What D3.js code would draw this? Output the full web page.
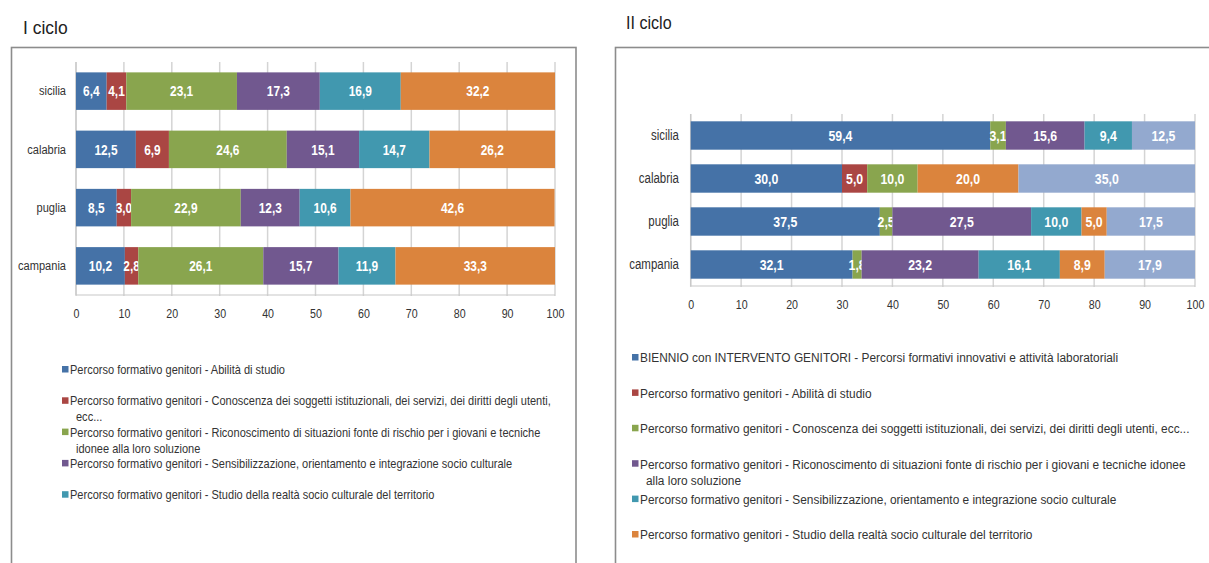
<!DOCTYPE html>
<html>
<head>
<meta charset="utf-8">
<script src="https://cdn.jsdelivr.net/npm/d3@7"></script>
<style>
  html, body { margin: 0; padding: 0; background: #fff; }
  svg { display: block; }
  text { font-family: "Liberation Sans", Arial, sans-serif; }
</style>
</head>
<body>
<svg id="chart" width="1209" height="563"></svg>
<script>
// Regions, top to bottom
const categories = ["sicilia", "calabria", "puglia", "campania"];
const xTicks = [0, 10, 20, 30, 40, 50, 60, 70, 80, 90, 100];

// I ciclo: percentage shares per region
const iAbilita           = [6.4, 12.5, 8.5, 10.2];
const iConoscenza        = [4.1, 6.9, 3.0, 2.8];
const iRiconoscimento    = [23.1, 24.6, 22.9, 26.1];
const iSensibilizzazione = [17.3, 15.1, 12.3, 15.7];
const iStudioRealta      = [16.9, 14.7, 10.6, 11.9];
const iSesto             = [32.2, 26.2, 42.6, 33.3];

// II ciclo: percentage shares per region
const iiBiennio           = [59.4, 30.0, 37.5, 32.1];
const iiAbilita           = [0, 5.0, 0, 0];
const iiConoscenza        = [3.1, 10.0, 2.5, 1.8];
const iiRiconoscimento    = [15.6, 0, 27.5, 23.2];
const iiSensibilizzazione = [9.4, 0, 10.0, 16.1];
const iiStudioRealta      = [0, 20.0, 5.0, 8.9];
const iiSettimo           = [12.5, 35.0, 17.5, 17.9];

const palette = ["#4572A7", "#AA4643", "#89A54E", "#71588F", "#4198AF", "#DB843D", "#93A9CF"];

const legendI = [
  ["Percorso formativo genitori - Abilità di studio"],
  ["Percorso formativo genitori - Conoscenza dei soggetti istituzionali, dei servizi, dei diritti degli utenti,", "ecc..."],
  ["Percorso formativo genitori - Riconoscimento di situazioni fonte di rischio per i giovani e tecniche", "idonee alla loro soluzione"],
  ["Percorso formativo genitori - Sensibilizzazione, orientamento e integrazione socio culturale"],
  ["Percorso formativo genitori - Studio della realtà socio culturale del territorio"]
];
const legendII = [
  ["BIENNIO con INTERVENTO GENITORI - Percorsi formativi innovativi e attività laboratoriali"],
  ["Percorso formativo genitori - Abilità di studio"],
  ["Percorso formativo genitori - Conoscenza dei soggetti istituzionali, dei servizi, dei diritti degli utenti, ecc..."],
  ["Percorso formativo genitori - Riconoscimento di situazioni fonte di rischio per i giovani e tecniche idonee", "alla loro soluzione"],
  ["Percorso formativo genitori - Sensibilizzazione, orientamento e integrazione socio culturale"],
  ["Percorso formativo genitori - Studio della realtà socio culturale del territorio"]
];

const itLocale = d3.formatLocale({ decimal: ",", thousands: ".", grouping: [3], currency: ["€", ""] });
const fmt = itLocale.format(".1f");

// horizontal squeeze giving the narrow look of the chart typeface
const SQ = 0.82;

const svg = d3.select("#chart");
svg.append("rect").attr("width", 1209).attr("height", 563).attr("fill", "#fff");

function drawPanel(o) {
  const g = svg.append("g");

  // title
  g.append("text")
    .attr("transform", `translate(${o.titleX},${o.titleY}) scale(0.92,1)`)
    .attr("font-size", o.titleSize).attr("fill", "#222")
    .text(o.title);

  // frame
  g.append("rect").attr("x", o.frame[0]).attr("y", o.frame[1])
    .attr("width", o.frame[2]).attr("height", o.frame[3])
    .attr("fill", "none").attr("stroke", "#8c8c8c").attr("stroke-width", 1.6);

  const x = d3.scaleLinear().domain([0, 100]).range([o.x0, o.x1]);
  const y = d3.scaleBand().domain(categories).range([o.yTop, o.yBottom])
    .paddingInner(o.pad).paddingOuter(o.pad / 2);

  // gridlines
  g.append("g").selectAll("line").data(xTicks).join("line")
    .attr("x1", d => x(d)).attr("x2", d => x(d))
    .attr("y1", o.yTop).attr("y2", o.yBottom + 1)
    .attr("stroke", "#d4d4d4").attr("stroke-width", 1.5);

  // axis lines
  g.append("line").attr("x1", o.x0).attr("x2", o.x1).attr("y1", o.yBottom).attr("y2", o.yBottom)
    .attr("stroke", "#c8c8c8").attr("stroke-width", 1.2);
  g.append("line").attr("x1", o.x0).attr("x2", o.x0).attr("y1", o.yTop).attr("y2", o.yBottom)
    .attr("stroke", "#c8c8c8").attr("stroke-width", 1.2);

  // x tick labels
  const xAxis = d3.axisBottom(x).tickValues(xTicks).tickSize(0).tickPadding(0).tickFormat(d3.format("d"));
  const ax = g.append("g").attr("transform", `translate(0,${o.tickY})`).call(xAxis);
  ax.select(".domain").remove();
  ax.selectAll("text").attr("font-size", o.tickSize).attr("fill", "#333")
    .attr("dy", "0.35em").attr("transform", `scale(${SQ},1)`).style("font-family", null);

  // category labels
  const yAxis = d3.axisLeft(y).tickSize(0).tickPadding(0);
  const ay = g.append("g").attr("transform", `translate(${o.catX},0)`).call(yAxis);
  ay.select(".domain").remove();
  ay.selectAll("text").attr("font-size", o.catSize).attr("fill", "#333")
    .attr("transform", `scale(${SQ},1)`).style("font-family", null);

  // stacked bars
  const rows = categories.map((c, i) => {
    const r = { cat: c };
    o.series.forEach((s, k) => { r["s" + k] = s[i]; });
    return r;
  });
  const keys = o.series.map((s, k) => "s" + k);
  const stacked = d3.stack().keys(keys)(rows);

  const layers = g.append("g").selectAll("g").data(stacked).join("g")
    .attr("fill", (d, k) => palette[k]);
  layers.selectAll("rect").data(d => d).join("rect")
    .attr("x", d => x(d[0]))
    .attr("y", d => y(d.data.cat))
    .attr("width", d => Math.max(0, x(d[1]) - x(d[0])))
    .attr("height", y.bandwidth());

  layers.selectAll("text").data(d => d.filter(p => p[1] - p[0] > 0)).join("text")
    .attr("transform", d => `translate(${(x(d[0]) + x(d[1])) / 2},${y(d.data.cat) + y.bandwidth() / 2}) scale(${SQ},1)`)
    .attr("dy", "0.36em")
    .attr("text-anchor", "middle")
    .attr("fill", "#fff")
    .attr("font-weight", "bold")
    .attr("font-size", o.labelSize)
    .text(d => fmt(d[1] - d[0]));

  // legend
  const lg = g.append("g");
  const items = lg.selectAll("g").data(o.legend).join("g")
    .attr("transform", (d, i) => `translate(${o.legX},${o.legY + i * o.legStep})`);
  items.append("rect").attr("x", 0).attr("y", -4).attr("width", 6.5).attr("height", 6.5)
    .attr("fill", (d, i) => palette[i]);
  const txt = items.append("text").attr("font-size", o.legSize).attr("fill", "#333");
  txt.selectAll("tspan").data(d => d).join("tspan")
    .attr("x", (d, j) => j === 0 ? 0 : 6)
    .attr("y", (d, j) => j * 16)
    .attr("dy", "0.32em")
    .text(d => d);

  // squeeze legend text so that the widest line spans the available width
  let widest = 0;
  txt.selectAll("tspan").each(function () { widest = Math.max(widest, this.getComputedTextLength()); });
  const sx = widest > 0 ? o.legWidest / widest : SQ;
  txt.attr("transform", `translate(8,0) scale(${sx},1)`);
  txt.selectAll("tspan").attr("x", (d, j) => j === 0 ? 0 : 6 / sx);
}

drawPanel({
  title: "I ciclo", titleX: 23, titleY: 34, titleSize: 19,
  frame: [11.5, 47.5, 564.5, 560],
  x0: 76, x1: 555, yTop: 62, yBottom: 295, pad: 0.356,
  tickY: 313, tickSize: 13, catX: 66, catSize: 13.5, labelSize: 14.5,
  series: [iAbilita, iConoscenza, iRiconoscimento, iSensibilizzazione, iStudioRealta, iSesto],
  legend: legendI, legX: 62, legY: 370, legStep: 31.3, legSize: 13, legWidest: 481
});

drawPanel({
  title: "II ciclo", titleX: 626, titleY: 29, titleSize: 17.5,
  frame: [615.5, 47.5, 700, 560],
  x0: 690.7, x1: 1195, yTop: 114, yBottom: 286, pad: 0.34,
  tickY: 304, tickSize: 13, catX: 679, catSize: 14, labelSize: 15,
  series: [iiBiennio, iiAbilita, iiConoscenza, iiRiconoscimento, iiSensibilizzazione, iiStudioRealta, iiSettimo],
  legend: legendII, legX: 632, legY: 358, legStep: 35.4, legSize: 13.5, legWidest: 550
});
</script>
</body>
</html>
